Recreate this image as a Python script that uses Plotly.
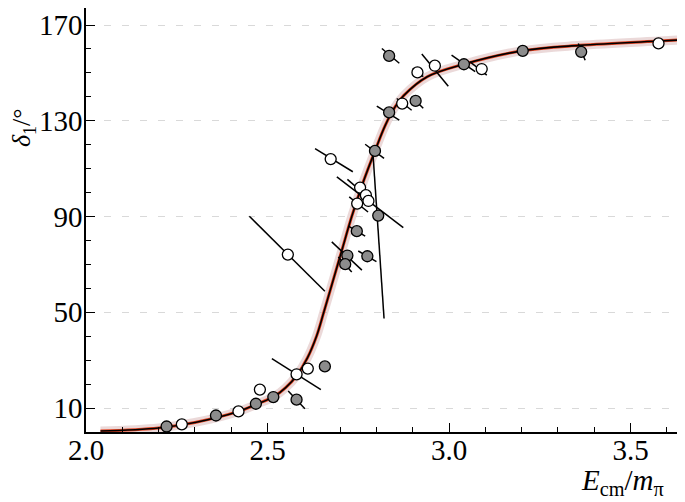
import plotly.graph_objects as go

# fitted phase-shift curve
curve_x = [2.04, 2.20, 2.30, 2.42, 2.47, 2.52, 2.55, 2.58, 2.61, 2.635, 2.655, 2.68,
           2.705, 2.732, 2.765, 2.796, 2.824, 2.85, 2.875, 2.94, 3.04, 3.20, 3.36,
           3.58, 3.63]
curve_y = [0.4, 1.7, 4.0, 8.6, 11.6, 15.0, 18.5, 23.5, 31.0, 40.0, 50.0, 63.0,
           76.0, 90.0, 105.0, 117.4, 128.0, 135.5, 140.5, 148.4, 153.6, 159.2, 161.5,
           163.3, 163.7]

# filled (grey) points
filled_x = [2.222, 2.358, 2.468, 2.516, 2.580, 2.658, 2.720, 2.714, 2.775, 2.746,
            2.805, 2.796, 2.835, 2.908, 2.835, 3.041, 3.203, 3.364]
filled_y = [2.3, 6.9, 11.8, 14.6, 13.5, 27.4, 73.7, 70.1, 73.4, 83.9,
            90.4, 117.4, 133.5, 138.3, 157.1, 153.6, 159.2, 158.8]

# open points
open_x = [2.264, 2.420, 2.479, 2.580, 2.611, 2.556, 2.674, 2.755, 2.771, 2.778,
          2.747, 2.871, 2.913, 2.961, 3.090, 3.577]
open_y = [3.2, 8.6, 17.7, 24.1, 26.5, 74.1, 114.0, 102.1, 98.9, 96.5,
          95.4, 137.2, 150.2, 153.0, 151.6, 162.3]

# correlated error bars: segment end points
err_x0 = [2.512, 2.557, 2.631, 2.769, 2.691, 2.720, 2.725, 2.677, 2.695, 2.750, 2.723,
          2.790, 2.450, 2.815, 2.900, 2.925, 3.007, 2.856, 2.897, 2.801, 3.058, 3.356]
err_y0 = [30.6, 17.1, 118.4, 120.2, 106.6, 105.5, 98.2, 79.4, 73.1, 75.6, 86.0,
          117.4, 90.1, 160.2, 151.9, 157.9, 157.4, 139.3, 140.0, 136.1, 154.6, 162.3]
err_x1 = [2.647, 2.603, 2.735, 2.821, 2.874, 2.760, 2.777, 2.760, 2.732, 2.800, 2.769,
          2.821, 2.658, 2.863, 2.929, 2.998, 3.072, 2.897, 2.929, 2.863, 3.104, 3.375]
err_y1 = [17.7, 9.7, 108.7, 114.3, 85.4, 100.3, 91.9, 67.6, 66.8, 71.2, 81.8,
          47.4, 58.8, 154.0, 148.4, 144.4, 150.5, 134.4, 135.2, 130.3, 149.1, 155.3]

seg_x, seg_y = [], []
for a, b, c, d in zip(err_x0, err_y0, err_x1, err_y1):
    seg_x += [a, c, None]
    seg_y += [b, d, None]

FONT = "Liberation Serif"

fig = go.Figure()

# uncertainty band + central curve
fig.add_trace(go.Scatter(x=curve_x, y=curve_y, mode="lines", line_shape="spline",
                         line=dict(color="rgba(205,160,160,0.4)", width=9),
                         hoverinfo="skip", showlegend=False))
fig.add_trace(go.Scatter(x=curve_x, y=curve_y, mode="lines", line_shape="spline",
                         line=dict(color="#e2401f", width=3),
                         hoverinfo="skip", showlegend=False))
fig.add_trace(go.Scatter(x=curve_x, y=curve_y, mode="lines", line_shape="spline",
                         line=dict(color="black", width=1.6),
                         hoverinfo="skip", showlegend=False))

fig.add_trace(go.Scatter(x=seg_x, y=seg_y, mode="lines",
                         line=dict(color="black", width=1.5),
                         hoverinfo="skip", showlegend=False))

fig.add_trace(go.Scatter(x=open_x, y=open_y, mode="markers",
                         marker=dict(size=11, color="white",
                                     line=dict(color="black", width=1.3)),
                         showlegend=False))
fig.add_trace(go.Scatter(x=filled_x, y=filled_y, mode="markers",
                         marker=dict(size=11, color="#8c8c8c",
                                     line=dict(color="black", width=1.3)),
                         showlegend=False))

axis_common = dict(showline=True, linecolor="black", linewidth=1.5,
                   ticks="inside", ticklen=9, tickwidth=1.3, tickcolor="black",
                   zeroline=False, automargin=False,
                   tickfont=dict(family=FONT, size=29, color="black"))

fig.update_xaxes(range=[2.0, 3.65], tickvals=[2.0, 2.5, 3.0, 3.5],
                 ticktext=["2.0", "2.5", "3.0", "3.5"], showgrid=False,
                 ticklabelstandoff=-9,
                 minor=dict(ticks="inside", ticklen=5, dtick=0.1, tick0=2.0,
                            tickcolor="black", tickwidth=1.2, showgrid=False),
                 **axis_common)
fig.update_yaxes(range=[0, 177.1], tickvals=[10, 50, 90, 130, 170],
                 showgrid=True, gridcolor="#d9d9d9", griddash="7px,11px", gridwidth=1,
                 ticklabelstandoff=-4,
                 minor=dict(ticks="inside", ticklen=5, dtick=10, tick0=0,
                            tickcolor="black", tickwidth=1.2, showgrid=False),
                 **axis_common)

fig.add_annotation(text="<i>δ</i><sub>1</sub>/°", xref="paper", yref="paper",
                   x=-0.105, y=0.717, xanchor="center", yanchor="middle",
                   textangle=-90, showarrow=False,
                   font=dict(family=FONT, size=26, color="black"))
fig.add_annotation(text="<i>E</i><sub>cm</sub>/<i>m</i><sub>π</sub>",
                   xref="paper", yref="paper", x=0.895, y=-0.119,
                   xanchor="center", yanchor="middle", showarrow=False,
                   font=dict(family=FONT, size=29, color="black"))

# page body adds an 8px offset, so the figure is 8px smaller than the window
fig.update_layout(width=677, height=494, plot_bgcolor="white", paper_bgcolor="white",
                  margin=dict(l=78, r=0, t=0, b=70, autoexpand=False),
                  showlegend=False)

fig.write_html("out.html")
